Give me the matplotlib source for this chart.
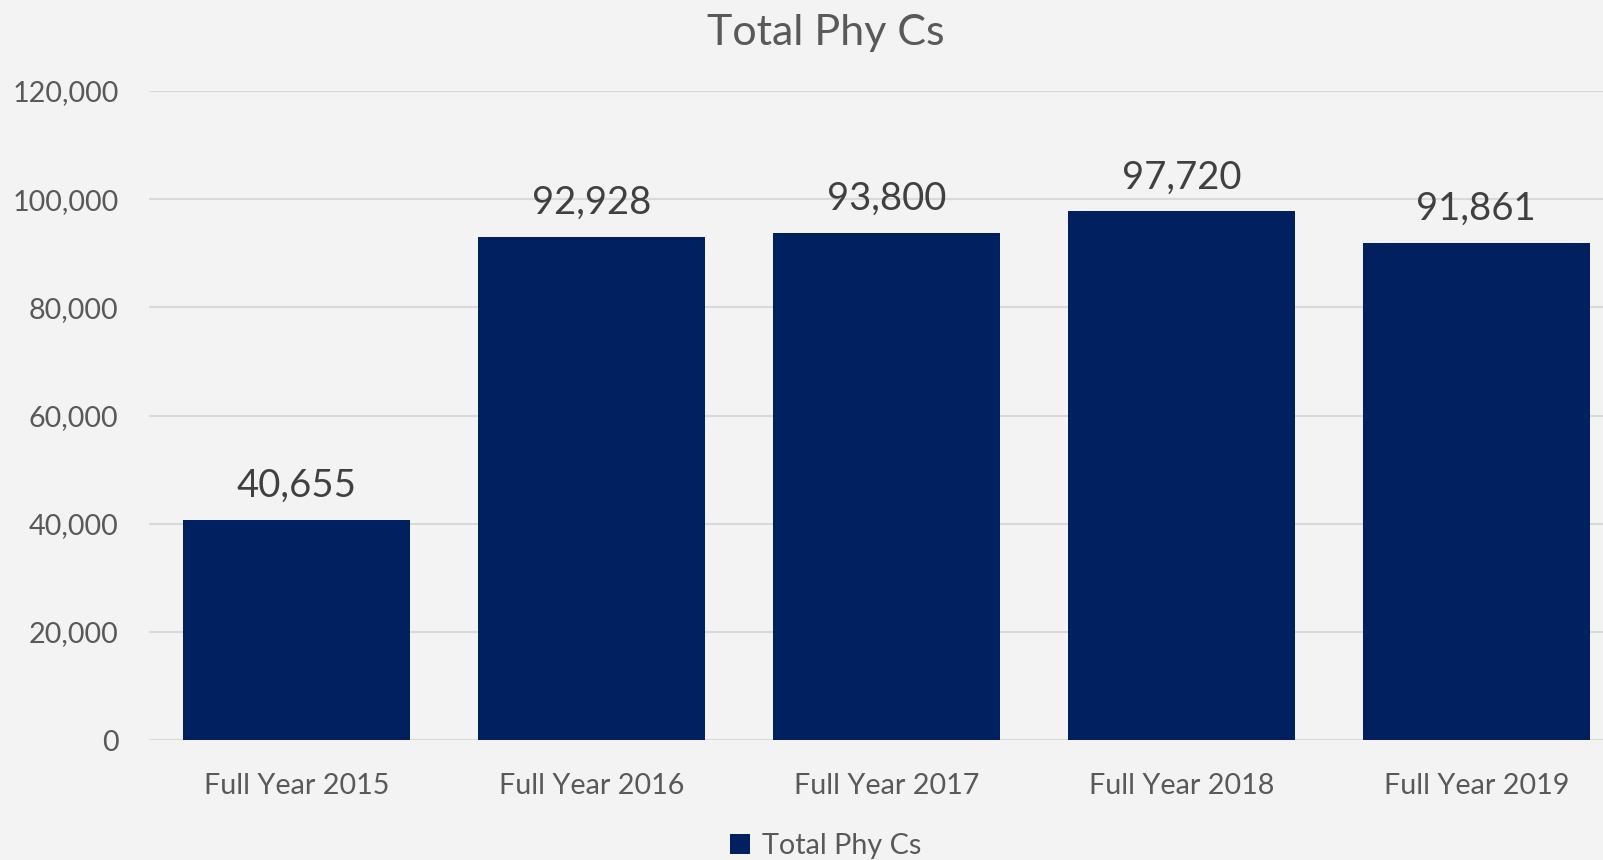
import matplotlib.pyplot as plt
from matplotlib.ticker import FuncFormatter

categories = ["Full Year 2015", "Full Year 2016", "Full Year 2017", "Full Year 2018", "Full Year 2019"]
values = [40655, 92928, 93800, 97720, 91861]
series_name = "Total Phy Cs"

plt.rcParams["font.family"] = ["Lato", "DejaVu Sans"]

bg = "#f3f3f3"
fig = plt.figure(figsize=(16.03, 8.6), dpi=100, facecolor=bg)
ax = fig.add_axes([0.093, 0.1395, 0.920, 0.7547], facecolor=bg)

x = range(len(categories))
bars = ax.bar(x, values, width=0.77, color="#002060", label=series_name, zorder=3)

for xi, v in zip(x, values):
    ax.text(xi, v + 3000, f"{v:,}", ha="center", va="bottom", fontsize=27.5, color="#404040")

ax.set_xlim(-0.5, len(categories) - 0.5)
ax.set_ylim(0, 120000)
ax.set_yticks(range(0, 120001, 20000))
ax.yaxis.set_major_formatter(FuncFormatter(lambda v, p: f"{int(v):,}"))
ax.set_xticks(list(x))
ax.set_xticklabels(categories)
ax.tick_params(axis="both", length=0, labelsize=20.7, colors="#595959")
ax.tick_params(axis="y", pad=22)
ax.tick_params(axis="x", pad=24)
ax.grid(axis="y", color="#d9d9d9", linewidth=1.5, zorder=0)
for s in ax.spines.values():
    s.set_visible(False)

fig.text(0.515, 0.962, "Total Phy Cs", ha="center", va="center", fontsize=31, color="#595959")

fig.legend(handles=[bars], labels=[series_name], loc="center", bbox_to_anchor=(0.515, 0.016),
           frameon=False, fontsize=20.7, labelcolor="#595959", handlelength=0.7, handleheight=0.7,
           handletextpad=0.4)

fig.savefig("out.png", dpi=100, facecolor=bg)
